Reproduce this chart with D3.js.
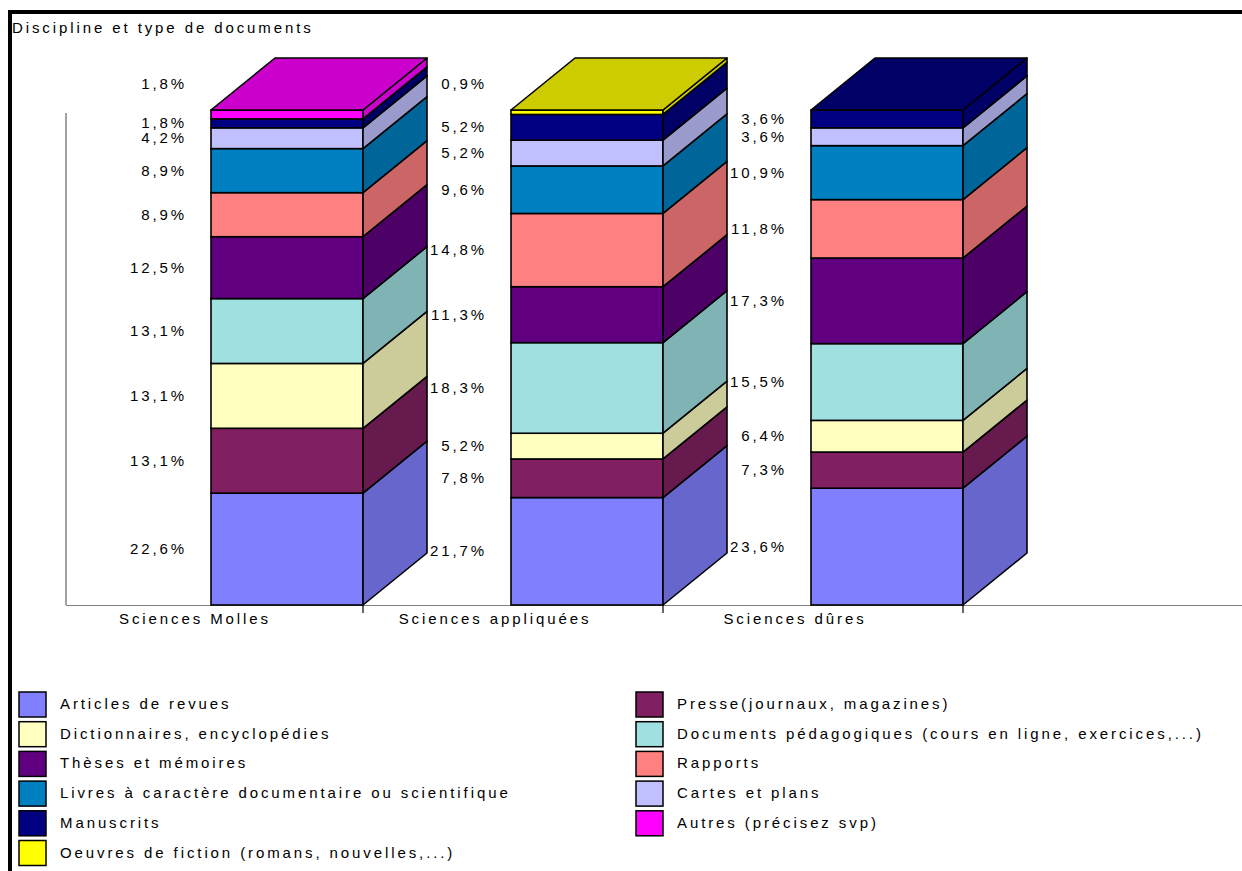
<!DOCTYPE html>
<html lang="fr">
<head>
<meta charset="UTF-8">
<title>Discipline et type de documents</title>
<style>
  body { margin: 0; background: #fff; }
  svg { display: block; font-family: "Liberation Sans", Arial, sans-serif; }
  .txt { font-size: 15px; letter-spacing: 2.9px; fill: #000; }
  .lbl { font-size: 15px; letter-spacing: 2.9px; fill: #000; }
</style>
</head>
<body>
<svg id="chart"></svg>
<script src="https://d3js.org/d3.v7.min.js"></script>
<script>
// categories on the x axis
const disciplines = ["Sciences Molles", "Sciences appliquées", "Sciences dûres"];

// series, in stacking order (bottom -> top)
const docTypes = [
  "Articles de revues",
  "Presse(journaux, magazines)",
  "Dictionnaires, encyclopédies",
  "Documents pédagogiques (cours en ligne, exercices,...)",
  "Thèses et mémoires",
  "Rapports",
  "Livres à caractère documentaire ou scientifique",
  "Cartes et plans",
  "Manuscrits",
  "Autres (précisez svp)",
  "Oeuvres de fiction (romans, nouvelles,...)"
];

const docColors = ["#8080ff", "#802060", "#ffffc0", "#a0e0e0", "#600080", "#ff8080",
                   "#0080c0", "#c0c0ff", "#000080", "#ff00ff", "#ffff00"];

// percentages per discipline, same order as docTypes
const sciencesMolles      = [22.6, 13.1, 13.1, 13.1, 12.5, 8.9, 8.9, 4.2, 1.8, 1.8, 0];
const sciencesAppliquees  = [21.7, 7.8, 5.2, 18.3, 11.3, 14.8, 9.6, 5.2, 5.2, 0, 0.9];
const sciencesDures       = [23.6, 7.3, 6.4, 15.5, 17.3, 11.8, 10.9, 3.6, 3.6, 0, 0];

const values = [sciencesMolles, sciencesAppliquees, sciencesDures];

const width = 1242, height = 871;
const svg = d3.select("#chart").attr("width", width).attr("height", height);

// frame (only top and left edges are visible)
svg.append("rect").attr("x", 8).attr("y", 10).attr("width", width).attr("height", 4).attr("fill", "#000");
svg.append("rect").attr("x", 8).attr("y", 10).attr("width", 4).attr("height", height).attr("fill", "#000");

svg.append("text").attr("class", "txt").attr("x", 12).attr("y", 33).text("Discipline et type de documents");

// scales
const y = d3.scaleLinear().domain([0, 100]).range([605, 110]);
const x = d3.scaleBand().domain(disciplines).range([61, 961]);
const barW = 152, barOff = 150;      // front face inside each band
const dx = 64, dy = -52;             // 3D depth
const fmt = v => d3.format(".1f")(v).replace(".", ",") + "%";
const shade = c => { const r = d3.rgb(c); return d3.rgb(r.r * 0.8, r.g * 0.8, r.b * 0.8).formatHex(); };

// wall edge and floor line
svg.append("line").attr("x1", 66).attr("x2", 66).attr("y1", 113).attr("y2", y(0))
  .attr("stroke", "#444").attr("stroke-width", 1);
svg.append("line").attr("x1", 66).attr("x2", width).attr("y1", y(0) + 0.5).attr("y2", y(0) + 0.5)
  .attr("stroke", "#808080").attr("stroke-width", 1.2);

disciplines.forEach((disc, ci) => {
  const x0 = x(disc) + barOff, x1 = x0 + barW;
  const vals = values[ci];
  const segs = [];
  let acc = 0;
  vals.forEach((v, si) => {
    if (v > 0) segs.push({ si, v, lo: acc, hi: acc + v });
    acc += v;
  });

  const g = svg.append("g");
  segs.forEach(s => {
    const yt = y(s.hi), yb = y(s.lo);
    g.append("rect").attr("x", x0).attr("y", yt).attr("width", barW).attr("height", yb - yt)
      .attr("fill", docColors[s.si]).attr("stroke", "#000").attr("stroke-width", 1.6);
    g.append("path")
      .attr("d", `M${x1},${yt}L${x1 + dx},${yt + dy}L${x1 + dx},${yb + dy}L${x1},${yb}Z`)
      .attr("fill", shade(docColors[s.si])).attr("stroke", "#000").attr("stroke-width", 1.6)
      .attr("stroke-linejoin", "round");
  });
  const top = segs[segs.length - 1];
  const yt = y(top.hi);
  g.append("path")
    .attr("d", `M${x0},${yt}L${x0 + dx},${yt + dy}L${x1 + dx},${yt + dy}L${x1},${yt}Z`)
    .attr("fill", shade(docColors[top.si])).attr("stroke", "#000").attr("stroke-width", 1.6)
    .attr("stroke-linejoin", "round");

  // value labels at segment centres, pushed apart when crowded
  const labs = segs.map(s => ({ s, ly: (y(s.lo) + y(s.hi)) / 2, h: y(s.lo) - y(s.hi) }));
  for (let i = 1; i < labs.length; i++) {
    if (labs[i - 1].ly - labs[i].ly < 15) labs[i].ly = labs[i - 1].ly - 15;
  }
  const last = labs[labs.length - 1];
  if (last.h < 12) last.ly = y(100) - 26;

  svg.append("g").selectAll("text").data(labs).join("text")
    .attr("class", "lbl")
    .attr("x", x0 - 24).attr("y", d => d.ly).attr("dy", "0.34em")
    .attr("text-anchor", "end")
    .text(d => fmt(d.s.v));

  // tick under the front right edge, category name
  svg.append("line").attr("x1", x1).attr("x2", x1).attr("y1", y(0)).attr("y2", y(0) + 8)
    .attr("stroke", "#000").attr("stroke-width", 1.2);
  svg.append("text").attr("class", "txt").attr("x", x0 - 16).attr("y", 624)
    .attr("text-anchor", "middle").text(disc);
});

// legend: two columns, filled row by row
const legend = svg.append("g").selectAll("g").data(docTypes).join("g")
  .attr("transform", (d, i) => `translate(${i % 2 ? 636 : 19},${692 + Math.floor(i / 2) * 29.7})`);
legend.append("rect").attr("width", 27).attr("height", 25)
  .attr("fill", (d, i) => docColors[i]).attr("stroke", "#000").attr("stroke-width", 1.5);
legend.append("text").attr("class", "txt").attr("x", 41).attr("y", 17).text(d => d);
</script>
</body>
</html>
